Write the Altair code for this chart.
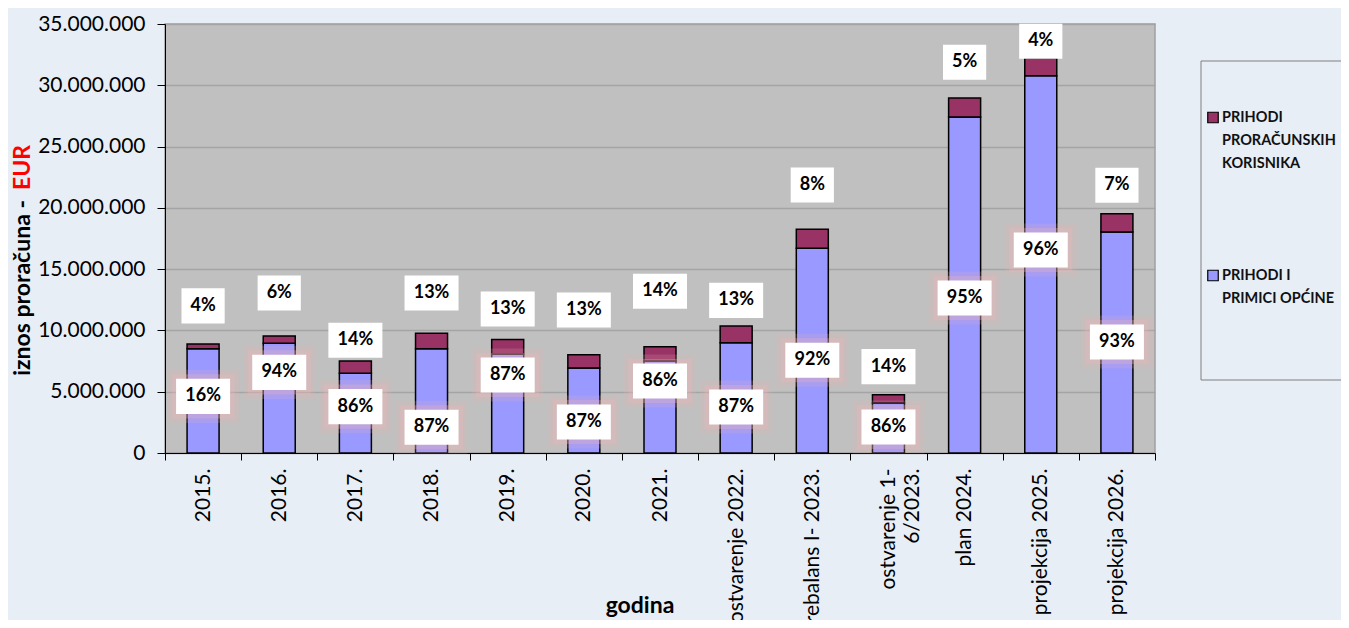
import altair as alt
import pandas as pd

# ---------------- data ----------------
categories = ["2015.", "2016.", "2017.", "2018.", "2019.", "2020.", "2021.",
              "ostvarenje 2022.", "rebalans I- 2023.", "ostvarenje 1-\n6/2023.",
              "plan 2024.", "projekcija 2025.", "projekcija 2026."]
prihodi_opcine = [8510000, 8950000, 6500000, 8510000, 8080000, 6930000, 7500000,
                  9000000, 16700000, 4080000, 27410000, 30780000, 18030000]
prihodi_korisnika = [380000, 600000, 1010000, 1250000, 1190000, 1090000, 1170000,
                     1360000, 1550000, 680000, 1550000, 1470000, 1490000]
korisnici_pct = ["4%", "6%", "14%", "13%", "13%", "13%", "14%", "13%", "8%", "14%", "5%", "4%", "7%"]
korisnici_pct_at = [12000000, 13050000, 9200000, 13050000, 11750000, 11670000, 13200000,
                    12450000, 21870000, 7050000, 31880000, 33590000, 21840000]
opcina_pct = ["16%", "94%", "86%", "87%", "87%", "87%", "86%", "87%", "92%", "86%", "95%", "96%", "93%"]
opcina_pct_at = [4620000, 6580000, 3780000, 2100000, 6360000, 2530000, 5870000,
                 3750000, 7570000, 2120000, 12650000, 16560000, 9060000]
series_names = ["PRIHODI\nPRORAČUNSKIH\nKORISNIKA", "PRIHODI I\nPRIMICI OPĆINE"]
y_ticks = [0, 5000000, 10000000, 15000000, 20000000, 25000000, 30000000, 35000000]

# ---------------- style ----------------
BLUE = "#9999FF"
MAROON = "#993366"
BG = "#E8EEF6"
FONT = "Lato"
BOX2 = "M-0.8,-0.65L0.8,-0.65L0.8,0.65L-0.8,0.65Z"
BOX3 = "M-1,-0.65L1,-0.65L1,0.65L-1,0.65Z"
BOX_SIZE = 2916

df = pd.DataFrame({
    "cat": categories,
    "low": prihodi_opcine,
    "up": prihodi_korisnika,
    "ulab": korisnici_pct,
    "upos": korisnici_pct_at,
    "llab": opcina_pct,
    "lpos": opcina_pct_at,
})
df["top"] = df["low"] + df["up"]
df["ushape"] = [BOX3 if len(s) >= 3 else BOX2 for s in df["ulab"]]
df["lshape"] = [BOX3 if len(s) >= 3 else BOX2 for s in df["llab"]]

x_axis = alt.Axis(title=None, labelAngle=270, labelFont=FONT, labelFontSize=21,
                  labelColor="black", labelPadding=8, tickBand="extent", tickSize=7,
                  tickColor="black", domainColor="black", grid=False, labelLimit=400,
                  labelOverlap=False, labelExpr="split(datum.label, '\\n')", labelLineHeight=24)
x_scale = alt.Scale(paddingInner=0, paddingOuter=0)
y_axis = alt.Axis(title=None, values=y_ticks, labelFont=FONT, labelFontSize=21,
                  labelColor="black", labelPadding=12, tickSize=8, tickColor="black",
                  domainColor="black", grid=True, gridColor="#A4A4A4", gridWidth=1.5,
                  labelExpr="replace(format(datum.value, ',d'), /,/g, '.')")
y_scale = alt.Scale(domain=[0, 35000000], nice=False, zero=True)


def X():
    return alt.X("cat:N", sort=categories, scale=x_scale, axis=x_axis)


def Y(field):
    return alt.Y(field, scale=y_scale, axis=y_axis)


base = alt.Chart(df)

bars_low = base.mark_bar(width=32, color=BLUE, stroke="black", strokeWidth=1.5).encode(
    x=X(), y=Y("low:Q"))
bars_up = base.mark_bar(width=32, color=MAROON, stroke="black", strokeWidth=1.5).encode(
    x=X(), y=Y("low:Q"), y2="top:Q")

glow1 = base.mark_point(filled=True, fill="#F0B4B4", stroke="#F0B4B4", strokeWidth=18,
                        opacity=0.18, size=BOX_SIZE).encode(
    x=X(), y=Y("lpos:Q"), shape=alt.Shape("lshape:N", scale=None))
glow2 = base.mark_point(filled=True, fill="#F0B4B4", stroke="#F0B4B4", strokeWidth=9,
                        opacity=0.3, size=BOX_SIZE).encode(
    x=X(), y=Y("lpos:Q"), shape=alt.Shape("lshape:N", scale=None))
box_low = base.mark_point(filled=True, fill="white", opacity=1, size=BOX_SIZE).encode(
    x=X(), y=Y("lpos:Q"), shape=alt.Shape("lshape:N", scale=None))
box_up = base.mark_point(filled=True, fill="white", opacity=1, size=BOX_SIZE).encode(
    x=X(), y=Y("upos:Q"), shape=alt.Shape("ushape:N", scale=None))
txt_low = base.mark_text(font=FONT, fontWeight="bold", fontSize=18, color="black").encode(
    x=X(), y=Y("lpos:Q"), text="llab:N")
txt_up = base.mark_text(font=FONT, fontWeight="bold", fontSize=18, color="black").encode(
    x=X(), y=Y("upos:Q"), text="ulab:N")

one = pd.DataFrame({"k": [0]})

# y-axis title in two colours
ytitle_black = alt.Chart(one).mark_text(
    text="iznos proračuna -", angle=270, align="right", baseline="middle",
    font=FONT, fontWeight="bold", fontSize=23, color="black").encode(
    x=alt.value(-142), y=alt.value(176))
ytitle_red = alt.Chart(one).mark_text(
    text="EUR", angle=270, align="left", baseline="middle",
    font=FONT, fontWeight="bold", fontSize=23, color="#FF0000").encode(
    x=alt.value(-142), y=alt.value(166))

xtitle = alt.Chart(one).mark_text(
    text="godina", align="center", baseline="alphabetic",
    font=FONT, fontWeight="bold", fontSize=23, color="black").encode(
    x=alt.value(475), y=alt.value(589))

# legend (manual)
legend_box = alt.Chart(one).mark_rect(fillOpacity=0, stroke="#7F7F7F", strokeWidth=1).encode(
    x=alt.value(1036), x2=alt.value(1260), y=alt.value(37), y2=alt.value(356))
leg_sq1 = alt.Chart(one).mark_point(shape="square", filled=True, fill=MAROON, stroke="black",
                                    strokeWidth=1.2, opacity=1, size=110).encode(
    x=alt.value(1048), y=alt.value(93.5))
leg_sq2 = alt.Chart(one).mark_point(shape="square", filled=True, fill=BLUE, stroke="black",
                                    strokeWidth=1.2, opacity=1, size=110).encode(
    x=alt.value(1048), y=alt.value(251.5))
leg_t1 = alt.Chart(one).mark_text(
    text=series_names[0], lineBreak="\n", lineHeight=23, align="left", baseline="middle",
    font=FONT, fontWeight="bold", fontSize=14.5, color="#111111").encode(
    x=alt.value(1057), y=alt.value(94))
leg_t2 = alt.Chart(one).mark_text(
    text=series_names[1], lineBreak="\n", lineHeight=23, align="left", baseline="middle",
    font=FONT, fontWeight="bold", fontSize=14.5, color="#111111").encode(
    x=alt.value(1057), y=alt.value(252))

chart = alt.layer(
    bars_low, bars_up, glow1, glow2, box_low, txt_low, box_up, txt_up,
    ytitle_black, ytitle_red, xtitle,
    legend_box, leg_sq1, leg_sq2, leg_t1, leg_t2,
).properties(
    width=990, height=429,
    autosize=alt.AutoSizeParams(type="none"),
    padding={"left": 157, "top": 16, "right": 186, "bottom": 167},
).configure(
    background=BG,
).configure_view(
    fill="#C0C0C0", stroke="#A0A0A0", strokeWidth=1.5,
)

chart.save("out.html", embed_options={"renderer": "svg", "actions": False})
